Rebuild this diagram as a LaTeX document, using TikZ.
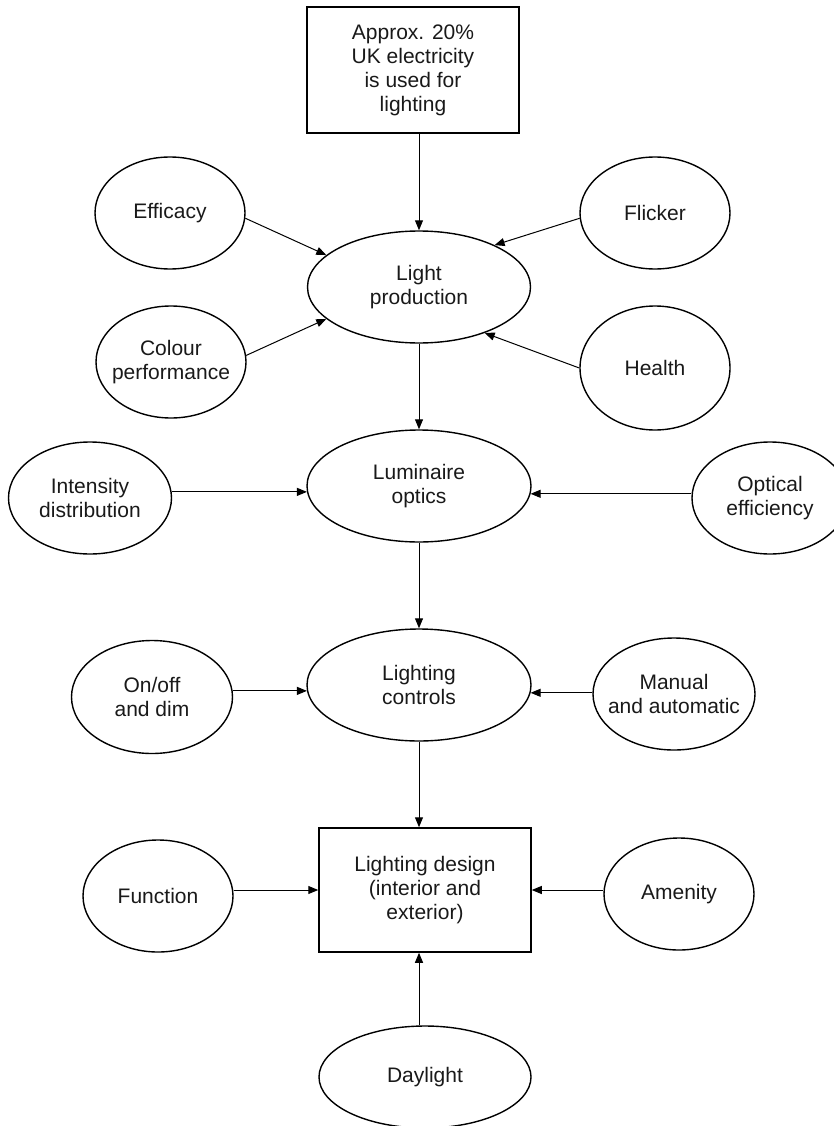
\documentclass[tikz,border=0pt]{standalone}
\usepackage{fontspec}
\setmainfont{Liberation Sans}
\usetikzlibrary{shapes.geometric,arrows.meta}
\begin{document}
\begin{tikzpicture}[x=1pt,y=-1pt,
  txt/.style={align=center,text=black!90,font=\fontsize{21}{24}\selectfont},
  ell/.style={ellipse,draw,line width=1.4pt,inner xsep=-14pt,inner ysep=0pt,txt},
  bx/.style={rectangle,draw,line width=1.5pt,inner sep=0pt,txt},
  arr/.style={-{Triangle[length=10pt,width=8pt]},line width=1pt}]
\clip (0,0) rectangle (834,1126);
% boxes
\node[bx,minimum width=212pt,minimum height=126pt] (tb) at (413,70) {Approx. 20\%\\UK electricity\\is used for\\lighting};
\node[bx,minimum width=212pt,minimum height=124pt] (ld) at (425,890) {Lighting design\\(interior and\\exterior)};
% main ellipses
\node[ell,minimum width=223pt,minimum height=112pt] (lp) at (419,287) {Light\\production};
\node[ell,minimum width=224pt,minimum height=112pt] (lo) at (419,486) {Luminaire\\optics};
\node[ell,minimum width=224pt,minimum height=112pt] (lc) at (419,685) {Lighting\\controls};
% side ellipses
\node[ell,minimum width=150pt,minimum height=112pt] (eff) at (170,213) {Efficacy};
\node[ell,minimum width=150pt,minimum height=112pt] (cp) at (171,362) {Colour\\performance};
\node[ell,minimum width=150pt,minimum height=112pt] (fl) at (655,213) {Flicker};
\node[ell,minimum width=150pt,minimum height=124pt] (he) at (655,368) {Health};
\node[ell,minimum width=163pt,minimum height=112pt] (id) at (90,498) {Intensity\\distribution};
\node[ell,minimum width=156pt,minimum height=112pt] (oe) at (770,498) {Optical\\efficiency};
\node[ell,minimum width=161pt,minimum height=113pt] (od) at (152,697) {On/off\\and dim};
\node[ell,minimum width=162pt,minimum height=112pt] (ma) at (674,694) {Manual\\and automatic};
\node[ell,minimum width=150pt,minimum height=112pt] (fn) at (158,896) {Function};
\node[ell,minimum width=150pt,minimum height=112pt] (am) at (679,894) {Amenity};
\node[ell,minimum width=212pt,minimum height=102pt] (dl) at (425,1077) {Daylight};
% connectors
\draw[arr] (tb.south -| lp.north) -- (lp.north);
\draw[arr] (eff.-4) -- (lp.161);
\draw[arr] (fl.184) -- (lp.29);
\draw[arr] (cp.5) -- (lp.199);
\draw[arr] (he.west) -- (lp.325);
\draw[arr] (lp.south) -- (lo.north);
\draw[arr] (id.east |- lo.183.6) -- (lo.183.6);
\draw[arr] (oe.west |- lo.356.4) -- (lo.356.4);
\draw[arr] (lo.south) -- (lc.north);
\draw[arr] (od.east |- lc.183.1) -- (lc.183.1);
\draw[arr] (ma.west |- lc.356.9) -- (lc.356.9);
\draw[arr] (lc.south) -- (lc.south |- ld.north);
\draw[arr] (fn.east |- ld.west) -- (ld.west);
\draw[arr] (am.west |- ld.east) -- (ld.east);
\draw[arr] (lc.south |- dl.north) -- (lc.south |- ld.south);
\end{tikzpicture}
\end{document}
